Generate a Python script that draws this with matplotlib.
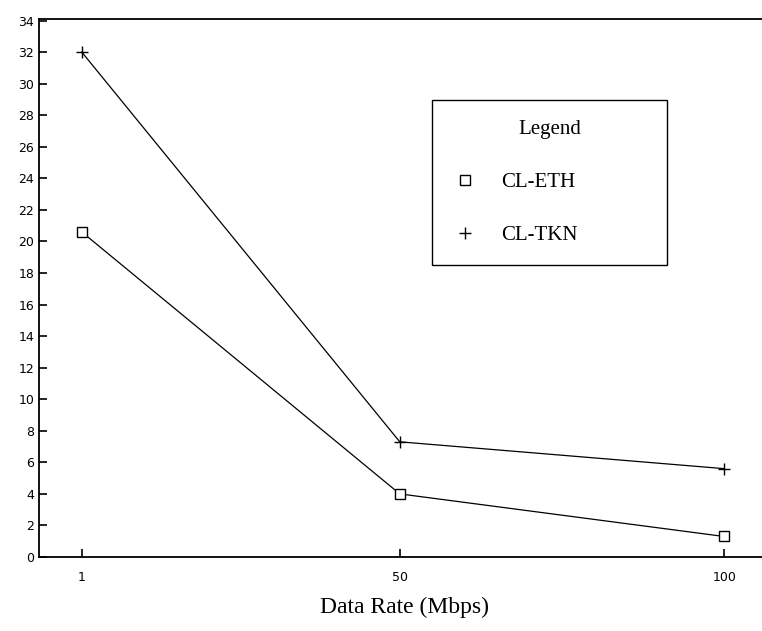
import matplotlib
matplotlib.use('Agg')
import matplotlib.pyplot as plt
from matplotlib.lines import Line2D

# Data
rates = [1, 50, 100]
cl_eth = [20.6, 4.0, 1.3]
cl_tkn = [32.0, 7.3, 5.6]
y_ticks = list(range(0, 35, 2))

fig = plt.figure(figsize=(7.62, 6.31), dpi=100)
ax = fig.add_axes([39/762, 74/631, 1 - 39/762 + 0.01, (557-19)/631])

ax.plot(rates, cl_eth, color='black', lw=0.9, marker='s', ms=7.5,
        mfc='white', mec='black', mew=1.0)
ax.plot(rates, cl_tkn, color='black', lw=0.9, marker='+', ms=8, mew=1.0)

ax.set_xlim(-5.6, 107)
ax.set_ylim(0, 34.1)
ax.set_xticks(rates)
ax.set_xticklabels([str(r) for r in rates])
ax.set_yticks(y_ticks)
ax.tick_params(direction='in', length=6, width=1.2, labelsize=9)
ax.tick_params(axis='x', pad=10)
ax.spines['right'].set_visible(False)
for s in ['left', 'bottom', 'top']:
    ax.spines[s].set_linewidth(1.3)

ax.set_xlabel('Data Rate (Mbps)', fontfamily='Liberation Serif', fontsize=17,
              labelpad=9)

handles = [
    Line2D([], [], ls='none', marker='s', ms=7, mfc='white', mec='black', mew=1.0),
    Line2D([], [], ls='none', marker='+', ms=8, mec='black', mew=1.0),
]
leg = ax.legend(handles, ['CL-ETH', 'CL-TKN'], title='Legend',
                loc='upper left', bbox_to_anchor=(0.5385, 0.539, 0.321, 0.31),
                mode='expand', borderaxespad=0, fancybox=False,
                edgecolor='black', framealpha=1,
                prop={'family': 'Liberation Serif', 'size': 15},
                title_fontproperties={'family': 'Liberation Serif', 'size': 15},
                labelspacing=1.6, borderpad=0.95, handlelength=1.2,
                handletextpad=1.15)
leg.get_frame().set_linewidth(1.0)
leg._legend_box.align = 'center'

fig.savefig('out.png', dpi=100)
